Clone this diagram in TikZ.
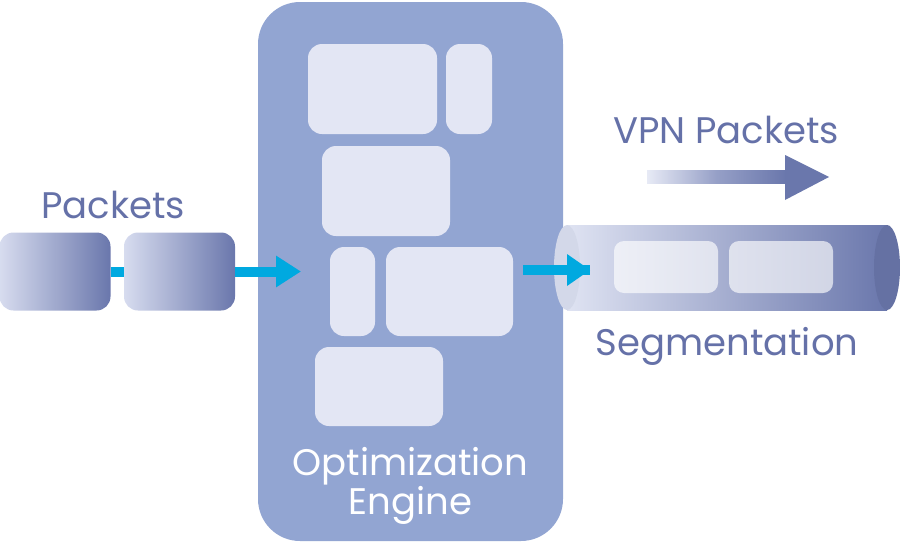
\documentclass[tikz,border=0pt]{standalone}
\usepackage{fontspec}
\setmainfont{Poppins}
\usetikzlibrary{arrows.meta}
\definecolor{txt}{HTML}{6571A8}
\definecolor{eng}{HTML}{92A5D2}
\definecolor{inner}{HTML}{E3E6F4}
\definecolor{pl}{HTML}{D7DCEF}
\definecolor{pd}{HTML}{6A77AC}
\definecolor{cy}{HTML}{00A9E0}
\tikzset{
  lbl/.style={text=txt,font=\fontsize{37}{42}\selectfont,inner sep=0pt},
  pkt/.style={rounded corners=14pt,left color=pl,right color=pd,draw=none,minimum width=111pt,minimum height=78pt,inner sep=0pt},
  blk/.style={rounded corners=14pt,fill=inner,draw=none,inner sep=0pt},
  seg/.style={rounded corners=10pt,fill=white,fill opacity=0.65,draw=none,minimum width=104pt,minimum height=52pt,inner sep=0pt},
  flow/.style={draw=cy,line width=10pt,-{Triangle[length=25pt,width=30pt]}},
  link/.style={draw=cy,line width=10pt}
}
\begin{document}
\begin{tikzpicture}[x=1pt,y=-1pt]
\useasboundingbox (0,0) rectangle (900,544);
% engine
\node[fill=eng,rounded corners=42pt,minimum width=305pt,minimum height=539pt,inner sep=0pt] (engine) at (410.5,271.5) {};
\node[blk,minimum width=129pt,minimum height=90pt] (b1) at (372.5,89) {};
\node[blk,minimum width=46pt,minimum height=90pt] (b2) at (469,89) {};
\node[blk,minimum width=128pt,minimum height=90pt] (b3) at (386,191) {};
\node[blk,minimum width=45pt,minimum height=89pt] (b4) at (352.5,291.5) {};
\node[blk,minimum width=127pt,minimum height=89pt] (b5) at (449.5,291.5) {};
\node[blk,minimum width=128pt,minimum height=79pt] (b6) at (379,386.5) {};
\node[text=white,font=\fontsize{37}{36}\selectfont,align=center,inner sep=0pt] (engtxt) at (410.5,486) {Optimization\\Engine};
% input packets
\node[lbl] (ptxt) at (113,205) {Packets};
\node[pkt] (p1) at (55,271.5) {};
\node[pkt] (p2) at (179.5,271.5) {};
\draw[link] (p1.east) -- (p2.west);
\coordinate (inarr) at (301,271.5);
\draw[flow] (p2.east) -- (inarr);
% cylinder
\coordinate (cl) at (567,267.5);
\coordinate (cr) at (887,267.5);
\shade[left color=pl!80!white,right color=pd] (567,225) rectangle (887,310);
\fill[pd!95!black] (cr) ellipse[x radius=13,y radius=42.5];
\fill[pl!70!pd!60!white] (cl) ellipse[x radius=13,y radius=42.5];
\node[seg] (s1) at (666,267) {};
\node[seg] (s2) at (781,267) {};
\coordinate (eout) at (523,270);
\coordinate (outarr) at (590,270);
\draw[link] (eout) -- (outarr);
\fill[cy] (567,254) -- (590,270) -- (567,286) -- cycle;
% VPN packets
\node[lbl] (vtxt) at (726,130) {VPN Packets};
\shade[left color=pl!60!white,right color=pd,middle color=pl!40!pd] (647,170) rectangle (786,183);
\fill[pd] (785,155) -- (829,177) -- (785,200) -- cycle;
\node[lbl] (stxt) at (727,346) {Segmentation};
\end{tikzpicture}
\end{document}
